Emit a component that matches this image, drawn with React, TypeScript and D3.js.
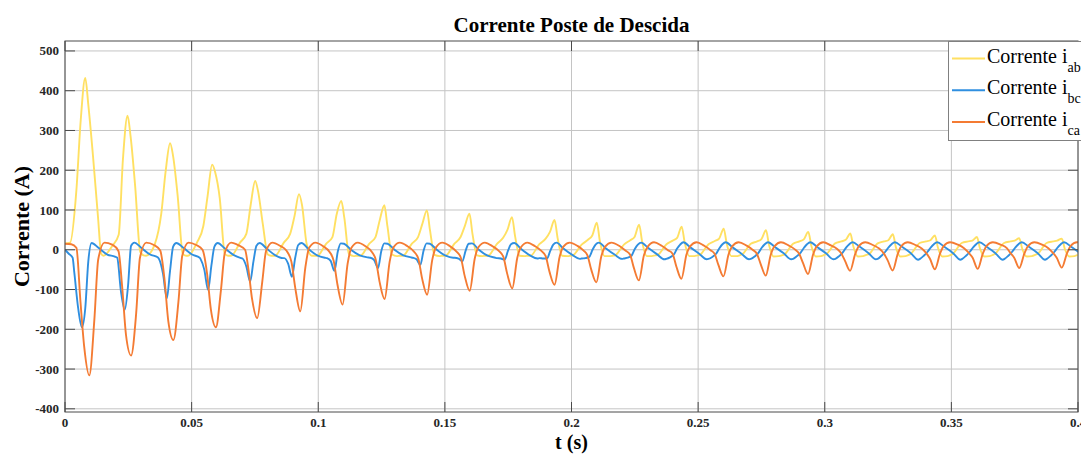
import React from "react";
import * as d3 from "d3";

const chartTitle = "Corrente Poste de Descida";
const xLabel = "t (s)";
const yLabel = "Corrente (A)";

const xTicks = [0, 0.05, 0.1, 0.15, 0.2, 0.25, 0.3, 0.35, 0.4];
const xTickLabels = ["0", "0.05", "0.1", "0.15", "0.2", "0.25", "0.3", "0.35", "0.4"];
const yTicks = [500, 400, 300, 200, 100, 0, -100, -200, -300, -400];

// i_ab : time of each current peak (ms), samples around it (offsets in ms)
const abPeakMs = [8.0, 24.7, 41.5, 58.1, 75.1, 92.4, 109.1, 126.1, 142.9, 159.7, 176.5, 193.3,
  210.0, 226.7, 243.5, 260.1, 276.8, 293.5, 310.1, 326.9, 343.5, 360.1, 376.8, 393.6];
const abOffsetMs = [-9.5, -6, -3.5, -1.8, 0, 1.2, 3, 5, 6.3];
const abCycles = [
  [15, 18, 150, 325, 432, 365, 240, 85, -10],
  [-15, 10, 38, 230, 337, 285, 160, -5, -14],
  [-15, 15, 90, 195, 268, 235, 135, -10, -15],
  [-15, 18, 59, 135, 214, 195, 130, -10, -15],
  [-15, 18, 40, 112, 173, 145, 65, -12, -15],
  [-15, 18, 40, 84, 140, 112, 15, -15, -15],
  [-15, 15, 32, 90, 123, 80, -10, -16, -15],
  [-15, 15, 32, 75, 112, 60, -12, -16, -15],
  [-15, 15, 32, 65, 99, 50, -13, -16, -15],
  [-15, 15, 32, 60, 91, 40, -14, -16, -15],
  [-15, 14, 30, 50, 82, 35, -15, -16, -15],
  [-15, 14, 28, 45, 75, 30, -15, -16, -15],
  [-14, 13, 25, 36, 68, 22, -16, -16, -15],
  [-14, 13, 24, 32, 63, 20, -16, -16, -14],
  [-13, 14, 23, 30, 58, 18, -16, -16, -14],
  [-13, 14, 22, 28, 53, 15, -16, -16, -14],
  [-12, 15, 21, 27, 49, 12, -17, -16, -14],
  [-12, 15, 21, 26, 45, 10, -17, -16, -13],
  [-11, 16, 21, 25, 41, 8, -17, -16, -13],
  [-11, 16, 21, 24, 39, 6, -17, -16, -13],
  [-10, 17, 21, 24, 36, 5, -17, -16, -13],
  [-10, 17, 21, 23, 32, 3, -17, -16, -13],
  [-10, 17, 21, 23, 29, 2, -17, -16, -13],
  [-10, 17, 21, 23, 28, 2, -17, -16, -13],
];

// i_bc : time of each dip (ms)
const bcLead = [[0, 0], [1.5, -10], [3, -20]];
const bcDipMs = [6.7, 23.6, 40.2, 56.5, 73.1, 89.6, 106.4, 123.6, 140.3, 156.9, 173.6, 190.3,
  207.0, 223.7, 240.4, 257.1, 273.8, 290.5, 307.2, 323.9, 340.6, 357.3, 374.0, 390.7];
const bcOffsetMs = [-3, -1.5, 0, 1.3, 2.5, 3.8, 6.5, 10, 13];
const bcCycles = [
  [-59, -147, -195, -147, -29, 17, 5, -12, -17],
  [-20, -105, -151, -90, 10, 18, 5, -12, -19],
  [-24, -60, -122, -52, 8, 17, 5, -12, -20],
  [-23, -50, -101, -40, 8, 17, 4, -13, -21],
  [-22, -42, -80, -30, 10, 17, 3, -14, -21],
  [-21, -35, -68, -20, 12, 17, 2, -14, -20],
  [-21, -28, -53, -5, 16, 15, 0, -14, -19],
  [-20, -26, -46, -3, 16, 15, 0, -14, -19],
  [-20, -24, -38, -2, 16, 15, 0, -15, -20],
  [-20, -22, -29, -2, 15, 16, 0, -15, -20],
  [-21, -22, -25, -3, 14, 17, 2, -14, -22],
  [-21, -22, -22, -3, 13, 18, 3, -13, -23],
  [-22, -21, -18, 0, 13, 18, 4, -12, -23],
  [-22, -20, -15, 2, 13, 18, 5, -11, -24],
  [-23, -19, -12, 3, 13, 19, 6, -10, -24],
  [-23, -18, -10, 4, 14, 19, 6, -10, -24],
  [-23, -17, -8, 5, 14, 19, 7, -9, -24],
  [-23, -16, -7, 5, 14, 19, 7, -9, -24],
  [-23, -16, -6, 6, 14, 19, 8, -8, -24],
  [-23, -15, -5, 6, 14, 19, 8, -8, -25],
  [-23, -15, -5, 6, 14, 19, 8, -8, -25],
  [-23, -15, -5, 6, 14, 19, 8, -8, -25],
  [-23, -15, -5, 6, 14, 19, 8, -8, -25],
  [-23, -15, -5, 6, 14, 19, 8, -8, -25],
];

// i_ca : time of each trough (ms)
const caLead = [[0, 15], [2.5, 14], [4.5, 5]];
const caTroughMs = [9.6, 26.1, 42.8, 59.6, 75.9, 92.9, 109.6, 126.2, 143.0, 159.8, 176.6, 193.3,
  209.8, 226.6, 243.4, 260.0, 276.7, 293.4, 310.0, 326.8, 343.5, 360.4, 376.8, 393.6];
const caOffsetMs = [-3.5, -2, 0, 2, 3.5, 6, 9, 11.5];
const caCycles = [
  [-130, -245, -316, -175, -25, 18, 13, -3],
  [-95, -215, -266, -160, -20, 18, 12, -2],
  [-75, -180, -227, -130, -15, 18, 12, 0],
  [-60, -150, -195, -100, -8, 18, 11, 0],
  [-48, -125, -172, -80, -3, 18, 10, -2],
  [-30, -95, -155, -45, 5, 18, 9, -5],
  [-28, -88, -138, -35, 5, 18, 9, -5],
  [-25, -80, -124, -30, 6, 18, 9, -4],
  [-22, -72, -113, -26, 6, 18, 9, -4],
  [-20, -65, -103, -22, 7, 18, 9, -3],
  [-18, -60, -97, -20, 7, 18, 9, -3],
  [-16, -55, -88, -18, 8, 18, 10, -2],
  [-14, -50, -82, -16, 8, 18, 10, -2],
  [-12, -45, -77, -14, 8, 19, 10, -1],
  [-10, -42, -73, -12, 9, 19, 10, -1],
  [-10, -38, -67, -12, 9, 19, 11, 0],
  [-10, -36, -65, -12, 9, 19, 11, 1],
  [-10, -33, -61, -12, 9, 19, 11, 2],
  [-9, -28, -53, -11, 10, 19, 12, 3],
  [-9, -26, -52, -11, 10, 19, 12, 3],
  [-8, -22, -49, -10, 10, 19, 13, 4],
  [-8, -20, -48, -10, 10, 19, 13, 4],
  [-8, -20, -46, -10, 10, 19, 13, 4],
  [-8, -20, -45, -10, 10, 19, 13, 4],
];

const seriesNames = ["ab", "bc", "ca"];
const seriesColors = ["#ffe062", "#2f8fe0", "#f47b33"];

function buildPoints(lead, refMs, offsets, rows) {
  const pts = lead.map(([t, v]) => [t / 1000, v]);
  refMs.forEach((ref, k) => {
    offsets.forEach((off, j) => {
      pts.push([(ref + off) / 1000, rows[k][j]]);
    });
  });
  return pts.sort((a, b) => a[0] - b[0]);
}

export default function App() {
  const width = 1081;
  const height = 455;
  const left = 65, right = 1078, top = 41, bottom = 412;

  const x = d3.scaleLinear().domain([0, 0.4]).range([left, right]);
  const y = d3.scaleLinear().domain([-408, 525]).range([bottom, top]);

  const line = d3
    .line<number[]>()
    .x(d => x(d[0]))
    .y(d => y(d[1]))
    .curve(d3.curveMonotoneX);

  const series = [
    buildPoints([], abPeakMs, abOffsetMs, abCycles),
    buildPoints(bcLead, bcDipMs, bcOffsetMs, bcCycles),
    buildPoints(caLead, caTroughMs, caOffsetMs, caCycles),
  ];

  const font = "'Liberation Serif', 'Times New Roman', serif";
  const gridColor = "#c4c4c4";
  const axisColor = "#4a4a4a";

  return (
    <div style={{ position: "absolute", left: 0, top: 0, width, height, overflow: "hidden", background: "#fff" }}>
      <svg width={width} height={height} style={{ display: "block" }} fontFamily={font}>
        <defs>
          <clipPath id="plot-area">
            <rect x={left} y={top} width={right - left} height={bottom - top} />
          </clipPath>
        </defs>

        {/* grid */}
        {xTicks.map(t => (
          <line key={"gx" + t} x1={x(t)} x2={x(t)} y1={top} y2={bottom} stroke={gridColor} strokeWidth={1} />
        ))}
        {yTicks.map(v => (
          <line key={"gy" + v} x1={left} x2={right} y1={y(v)} y2={y(v)} stroke={gridColor} strokeWidth={1} />
        ))}

        {/* curves */}
        <g clipPath="url(#plot-area)">
          {series.map((pts, i) => (
            <path key={seriesNames[i]} d={line(pts) || ""} fill="none" stroke={seriesColors[i]}
              strokeWidth={1.9} strokeLinejoin="round" />
          ))}
        </g>

        {/* axes box and ticks */}
        <rect x={left} y={top} width={right - left} height={bottom - top} fill="none" stroke={axisColor} strokeWidth={1} />
        {yTicks.map(v => (
          <g key={"ty" + v}>
            <line x1={left} x2={left + 10} y1={y(v)} y2={y(v)} stroke={axisColor} />
            <line x1={right} x2={right - 10} y1={y(v)} y2={y(v)} stroke={axisColor} />
            <text x={left - 6} y={y(v)} dy="0.35em" textAnchor="end" fontSize={13} fontWeight="bold" fill="#262626">
              {v}
            </text>
          </g>
        ))}
        {xTicks.map((t, i) => (
          <g key={"tx" + t}>
            <line x1={x(t)} x2={x(t)} y1={bottom} y2={bottom - 10} stroke={axisColor} />
            <line x1={x(t)} x2={x(t)} y1={top} y2={top + 10} stroke={axisColor} />
            <text x={x(t)} y={427} textAnchor="middle" fontSize={13} fontWeight="bold" fill="#262626">
              {xTickLabels[i]}
            </text>
          </g>
        ))}

        {/* labels */}
        <text x={(left + right) / 2} y={32} textAnchor="middle" fontSize={21} fontWeight="bold" fill="#000">
          {chartTitle}
        </text>
        <text x={(left + right) / 2} y={449} textAnchor="middle" fontSize={20} fontWeight="bold" fill="#000">
          {xLabel}
        </text>
        <text transform={`translate(29, ${(top + bottom) / 2}) rotate(-90)`} textAnchor="middle" fontSize={22}
          fontWeight="bold" fill="#000">
          {yLabel}
        </text>

        {/* legend */}
        <g>
          <rect x={948.5} y={41.5} width={200} height={99} fill="#fff" stroke="#808080" strokeWidth={1} />
          {seriesNames.map((name, i) => {
            const ly = 58.5 + i * 31.7;
            return (
              <g key={"lg" + name}>
                <line x1={952} x2={985} y1={ly} y2={ly} stroke={seriesColors[i]} strokeWidth={2} />
                <text x={987} y={ly + 4} fontSize={20} fill="#000">
                  Corrente i
                  <tspan fontSize={14} dy={9}>{name}</tspan>
                </text>
              </g>
            );
          })}
        </g>
      </svg>
    </div>
  );
}
